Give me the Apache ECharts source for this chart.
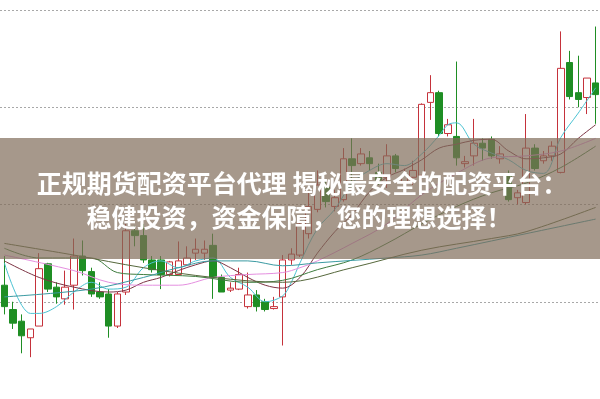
<!DOCTYPE html>
<html>
<head>
<meta charset="utf-8">
<script src="https://cdn.jsdelivr.net/npm/echarts@6/dist/echarts.min.js"></script>
<style>
  html, body { margin: 0; padding: 0; background: #fff; }
  #main { width: 600px; height: 399px; }
</style>
</head>
<body>
<div id="main"></div>
<script>
// K线数据 [open, close, low, high]
var candles = [
  [117, 95, 87, 147], [92, 78, 72, 100], [80, 65, 47, 87], [63, 72, 43, 72],
  [75, 134, 75, 150], [139, 113, 110, 140], [115, 105, 98, 120], [103, 115, 97, 132],
  [117, 147, 92, 165], [147, 132, 127, 163], [131, 108, 105, 135], [110, 105, 103, 120],
  [108, 75, 63, 113], [75, 108, 73, 110], [110, 173, 107, 180], [173, 168, 157, 178],
  [168, 143, 140, 180], [143, 133, 130, 147], [143, 128, 113, 147], [128, 141, 126, 142],
  [128, 142, 128, 162], [138, 145, 137, 157], [150, 154, 143, 165], [150, 154, 143, 163],
  [158, 125, 103, 170], [125, 110, 110, 128], [112, 114, 110, 120], [113, 128, 112, 135],
  [95, 107, 93, 130], [107, 95, 90, 112], [100, 92, 90, 103], [93, 95, 92, 105],
  [105, 143, 55, 148], [143, 149, 138, 155], [148, 180, 146, 185], [170, 198, 165, 212],
  [195, 220, 192, 235], [218, 203, 197, 225], [198, 207, 193, 215], [205, 247, 203, 258],
  [247, 240, 217, 268], [242, 252, 240, 258], [248, 242, 235, 255], [233, 225, 220, 242],
  [228, 250, 217, 262], [250, 237, 233, 252], [223, 230, 213, 237], [228, 235, 220, 245],
  [230, 303, 225, 304], [305, 315, 287, 333], [315, 273, 270, 317], [273, 282, 270, 288],
  [270, 248, 240, 347], [242, 244, 238, 250], [250, 263, 240, 288], [263, 258, 245, 268],
  [267, 250, 247, 270], [247, 252, 242, 260], [230, 205, 203, 235], [207, 212, 200, 215],
  [202, 258, 200, 293], [258, 237, 235, 262], [245, 250, 242, 255], [250, 260, 245, 265],
  [233, 340, 232, 378], [346, 311, 308, 358], [315, 308, 300, 353], [310, 330, 293, 330],
  [325, 313, 283, 383]
];

var days = candles.map(function (c, i) { return 'D' + (i + 1); });

// 均线（读图估计，空值处连线）
var ma5 = [140, null, null, 88, 88, null, 95, null, 110, null, 120, null, 113, null, 115, null,
  135, null, 142, null, 135, null, 142, null, 145, null, 125, null, 115, null, 100, null,
  106, 120, 140, null, 175, null, 195, null, 222, null, 235, null, 242, null, 240, null,
  252, null, 271, 282, 284, null, 262, null, 253, null, 246, null, 235, null, 232, null,
  269, null, 294, null, 320];
var ma10 = [142, null, null, null, 125, null, null, null, 115, null, null, null, 110, null, 112, null,
  120, null, 125, null, 132, null, 138, null, 142, null, 135, null, 125, null, 117, null,
  114, null, 125, null, 150, null, 172, null, 190, null, 213, null, 228, null, 236, null,
  246, null, 258, null, 262, null, 266, null, 267, null, 255, null, 247, null, 248, null,
  252, null, 268, null, 282];
var ma20 = [148, null, null, null, null, null, null, null, 132, null, null, null, 120, null, null, null,
  117, null, null, null, 117, null, null, null, 125, null, null, null, 128, null, null, null,
  130, null, 135, null, 142, null, null, null, 160, null, null, null, 180, null, null, null,
  210, null, null, null, 232, null, null, null, 248, null, null, null, 250, null, null, null,
  255, null, null, null, 268];
var ma30 = [155, null, null, null, 145, null, null, null, null, null, 145, null, null, 130, null, null,
  128, null, null, null, null, null, 126, null, null, null, null, null, 120, null, null, null,
  122, null, null, null, 133, null, null, null, 143, null, null, null, 160, null, null, null,
  180, null, null, null, 198, null, null, null, 212, null, null, null, 222, null, null, null,
  238, null, null, null, 260];
var ma60 = [105, null, null, null, null, null, null, null, null, null, 113, null, null, null, null, null,
  125, null, null, null, 135, null, null, null, 142, null, null, null, 142, null, null, null,
  137, null, null, null, 140, null, null, null, null, null, null, null, 145, null, null, null,
  148, null, null, null, 155, null, null, null, null, null, null, null, 170, null, null, null,
  null, null, null, null, 185];
var ma120 = [160, null, null, null, null, null, null, null, 148, null, null, null, null, null, null, null,
  135, null, null, null, null, null, null, null, 125, null, null, null, null, null, null, null,
  120, null, null, null, null, null, null, null, 135, null, null, null, null, null, null, null,
  153, null, null, null, null, null, null, null, 165, null, null, null, 172, null, null, null,
  null, null, null, null, 197];

var title1 = '正规期货配资平台代理 揭秘最安全的配资平台：';
var title2 = '稳健投资，资金保障，您的理想选择！';

var chart = echarts.init(document.getElementById('main'), null, { renderer: 'canvas' });

function maLine(name, data, color) {
  return {
    name: name,
    type: 'line',
    data: data,
    connectNulls: true,
    showSymbol: false,
    smooth: 0.35,
    silent: true,
    z: 3,
    lineStyle: { width: 1, color: color }
  };
}

var option = {
  animation: false,
  backgroundColor: '#fff',
  grid: { left: -3, right: 0, top: 10, bottom: -11 },
  xAxis: {
    type: 'category',
    data: days,
    boundaryGap: true,
    axisLine: { show: false },
    axisTick: { show: false },
    axisLabel: { show: false },
    splitLine: { show: false }
  },
  yAxis: {
    type: 'value',
    min: 0,
    max: 400,
    interval: 100,
    axisLine: { show: false },
    axisTick: { show: false },
    axisLabel: { show: false },
    splitLine: { lineStyle: { color: '#a8a8a8', type: [2, 2], width: 1 } }
  },
  series: [
    {
      type: 'candlestick',
      data: candles,
      barWidth: 7,
      z: 2,
      itemStyle: {
        color: '#ffffff',
        color0: '#1f8e24',
        borderColor: '#c5323b',
        borderColor0: '#1f8e24',
        borderWidth: 1
      }
    },
    maLine('MA5', ma5, '#4cc3d3'),
    maLine('MA10', ma10, '#7d3545'),
    maLine('MA20', ma20, '#e58fe0'),
    maLine('MA30', ma30, '#3f7d3f'),
    maLine('MA60', ma60, '#3a9aa2'),
    maLine('MA120', ma120, '#56683c')
  ],
  graphic: [
    {
      type: 'rect',
      z: 100,
      shape: { x: 0, y: 138, width: 600, height: 121 },
      style: { fill: 'rgba(128,108,90,0.7)' }
    },
    {
      type: 'text',
      z: 101,
      x: 302,
      y: 183,
      style: {
        text: title1,
        fill: '#fff',
        font: 'bold 25px "Noto Sans CJK SC"',
        textAlign: 'center',
        textVerticalAlign: 'middle'
      }
    },
    {
      type: 'text',
      z: 101,
      x: 299,
      y: 217,
      style: {
        text: title2,
        fill: '#fff',
        font: 'bold 25px "Noto Sans CJK SC"',
        textAlign: 'center',
        textVerticalAlign: 'middle'
      }
    }
  ]
};

chart.setOption(option);
</script>
</body>
</html>
